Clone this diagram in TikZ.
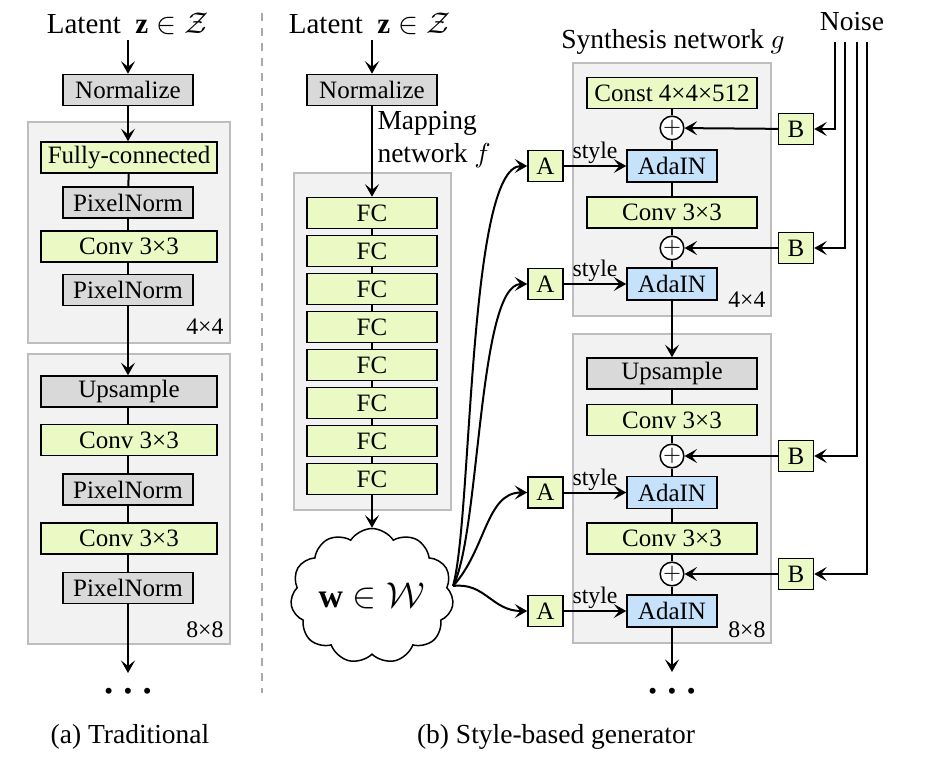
\documentclass[tikz,border=0pt]{standalone}
\usepackage{fontspec}
\setmainfont{Liberation Serif}
\usetikzlibrary{arrows.meta,shapes.symbols}
\definecolor{gfill}{RGB}{235,250,197}
\definecolor{grfill}{RGB}{217,217,217}
\definecolor{bfill}{RGB}{198,226,250}
\definecolor{grpfill}{RGB}{242,242,242}
\definecolor{grpdraw}{RGB}{190,190,190}
\definecolor{sepcol}{RGB}{170,170,170}
\newcommand{\mydots}{\textbullet\hspace{4.2pt}\textbullet\hspace{4.2pt}\textbullet}
\begin{document}
\begin{tikzpicture}[x=0.4pt,y=-0.4pt,
  box/.style={draw=black, line width=0.6pt, inner sep=0pt, minimum height=12.4pt, font=\fontsize{10}{12}\selectfont},
  gbox/.style={box, fill=gfill},
  grbox/.style={box, fill=grfill},
  wideb/.style={minimum width=70.4pt},
  midb/.style={minimum width=52pt},
  synb/.style={minimum width=68pt},
  adab/.style={box, fill=bfill, minimum width=36pt, minimum height=12.8pt},
  smallb/.style={box, fill=gfill, minimum width=14pt, minimum height=12.4pt},
  plusn/.style={circle, draw=black, line width=0.6pt, fill=white, minimum size=8.8pt, inner sep=0pt, font=\fontsize{9}{9}\selectfont},
  grp/.style={draw=grpdraw, fill=grpfill, line width=0.8pt},
  arr/.style={-{Stealth[length=5pt,width=5.6pt,inset=2.2pt]}, line width=0.8pt},
  ln/.style={line width=0.8pt},
  lbl/.style={font=\fontsize{11}{13.2}\selectfont, inner sep=0pt},
  latl/.style={font=\fontsize{11.6}{14}\selectfont, inner sep=0pt},
  sz/.style={font=\fontsize{9.5}{11}\selectfont, inner sep=0pt, anchor=base east},
  dotsn/.style={font=\fontsize{10}{10}\selectfont, inner sep=0pt},
  captxt/.style={font=\fontsize{11}{13}\selectfont, inner sep=0pt},
  stylel/.style={font=\fontsize{9.5}{11}\selectfont, inner sep=0.5pt, above}
]
\useasboundingbox (0,0) rectangle (940,772);

% separator
\draw[sepcol, line width=1pt, dash pattern=on 3.2pt off 2.8pt] (262,13) -- (262,693);

% ================= (a) Traditional =================
\node[latl] (lat1) at (128,24) {Latent\ \ $\mathbf{z}\in\mathcal{Z}$};
\node[grbox,midb] (an) at (128,90) {Normalize};
\draw[grp] (28,122) rectangle (230,343);
\node[gbox,wideb] (afc) at (129,157.5) {Fully-connected};
\node[grbox,midb] (apn1) at (128,202.5) {PixelNorm};
\node[gbox,wideb] (acv1) at (129,246.5) {Conv 3×3};
\node[grbox,midb] (apn2) at (128,290) {PixelNorm};
\node[sz] (asz1) at (224,335) {4×4};
\draw[grp] (28,354) rectangle (230,644);
\node[grbox,wideb] (aup) at (129,391.5) {Upsample};
\node[gbox,wideb] (acv2) at (129,440) {Conv 3×3};
\node[grbox,midb] (apn3) at (128,489.5) {PixelNorm};
\node[gbox,wideb] (acv3) at (129,538.5) {Conv 3×3};
\node[grbox,midb] (apn4) at (128,588) {PixelNorm};
\node[sz] (asz2) at (224,637) {8×8};
\coordinate (aend) at (128,673);
\node[dotsn] (adots) at (128,694) {\mydots};
\node[captxt] (acap) at (130,737) {(a) Traditional};

\draw[arr] ([yshift=-2pt]lat1.south -| an.north) -- (an);
\draw[arr] (an) -- (an |- afc.north);
\draw[ln] (afc) -- (apn1);
\draw[ln] (apn1) -- (apn1 |- acv1.north);
\draw[ln] (apn1 |- acv1.south) -- (apn2);
\draw[arr] (apn2) -- (apn2 |- aup.north);
\draw[ln] (apn2 |- aup.south) -- (apn2 |- acv2.north);
\draw[ln] (apn2 |- acv2.south) -- (apn3);
\draw[ln] (apn3) -- (apn3 |- acv3.north);
\draw[ln] (apn3 |- acv3.south) -- (apn4);
\draw[arr] (apn4) -- (aend);

% ================= (b) Mapping network =================
\node[latl] (lat2) at (370,24) {Latent\ \ $\mathbf{z}\in\mathcal{Z}$};
\node[grbox,midb] (bn) at (372,90) {Normalize};
\node[lbl, anchor=west, align=left] (maplbl) at (377,140) {Mapping\\network $f$};
\draw[grp] (294,173) rectangle (451,510);
\foreach \i in {1,...,8} {
  \node[gbox,midb] (fc\i) at (372,{213+38*(\i-1)}) {FC};
}
\foreach \i [evaluate=\i as \j using int(\i+1)] in {1,...,7} {
  \draw[ln] (fc\i) -- (fc\j);
}
\node[cloud, draw=black, line width=0.6pt, fill=white, cloud puffs=11, cloud puff arc=115, aspect=1.3,
      minimum width=61pt, minimum height=47pt, inner sep=0pt, font=\fontsize{13.5}{15}\selectfont] (w) at (372,596) {$\mathbf{w}\in\mathcal{W}$};
\draw[arr] ([yshift=-2pt]lat2.south -| bn.north) -- (bn);
\draw[arr] (bn) -- (fc1);
\draw[arr] (fc8) -- (w);

% ================= Synthesis network =================
\node[lbl] (synlbl) at (673,42) {Synthesis network $g$};
\draw[grp] (573,63) rectangle (771,316);
\node[gbox,synb] (const) at (672,93) {Const 4×4×512};
\node[plusn] (p1) at (672,128) {$+$};
\node[adab] (ad1) at (672,166) {AdaIN};
\node[gbox,synb] (scv1) at (672,212.5) {Conv 3×3};
\node[plusn] (p2) at (672,248) {$+$};
\node[adab] (ad2) at (672,284) {AdaIN};
\node[sz] (ssz1) at (766,308) {4×4};
\draw[grp] (573,334) rectangle (771,643);
\node[grbox,synb] (sup) at (672,373.5) {Upsample};
\node[gbox,synb] (scv2) at (672,420) {Conv 3×3};
\node[plusn] (p3) at (672,456) {$+$};
\node[adab] (ad3) at (672,492.5) {AdaIN};
\node[gbox,synb] (scv3) at (672,538.5) {Conv 3×3};
\node[plusn] (p4) at (672,574) {$+$};
\node[adab] (ad4) at (672,611) {AdaIN};
\node[sz] (ssz2) at (766,637) {8×8};
\coordinate (send) at (672,672);
\node[dotsn] (sdots) at (672,694) {\mydots};
\node[captxt] (bcap) at (556,737) {(b) Style-based generator};

\draw[ln] (const) -- (p1);
\draw[ln] (p1) -- (ad1);
\draw[ln] (ad1) -- (scv1);
\draw[ln] (scv1) -- (p2);
\draw[ln] (p2) -- (ad2);
\draw[arr] (ad2) -- (sup);
\draw[ln] (sup) -- (scv2);
\draw[ln] (scv2) -- (p3);
\draw[ln] (p3) -- (ad3);
\draw[ln] (ad3) -- (scv3);
\draw[ln] (scv3) -- (p4);
\draw[ln] (p4) -- (ad4);
\draw[arr] (ad4) -- (send);

% A boxes
\node[smallb] (A1) at (545.5,166) {A};
\node[smallb] (A2) at (545.5,284) {A};
\node[smallb] (A3) at (545.5,492.5) {A};
\node[smallb] (A4) at (545.5,611) {A};
\draw[arr] (A1) -- node[stylel] {style} (ad1);
\draw[arr] (A2) -- node[stylel] {style} (ad2);
\draw[arr] (A3) -- node[stylel] {style} (ad3);
\draw[arr] (A4) -- node[stylel] {style} (ad4);

% curves from w
\coordinate (wo) at (453,586);
\draw[arr] (wo) .. controls (472,520) and (468,166) .. (A1.west);
\draw[arr] (wo) .. controls (480,535) and (478,284) .. (A2.west);
\draw[arr] (wo) .. controls (486,550) and (486,492.5) .. (A3.west);
\draw[arr] (wo) .. controls (485,582) and (492,611) .. (A4.west);

% B boxes and noise
\node[smallb] (B1) at (796,129) {B};
\node[smallb] (B2) at (796,248) {B};
\node[smallb] (B3) at (796,456) {B};
\node[smallb] (B4) at (796,574) {B};
\draw[arr] (B1) -- (p1);
\draw[arr] (B2) -- (p2);
\draw[arr] (B3) -- (p3);
\draw[arr] (B4) -- (p4);

\node[lbl] (noise) at (852,22) {Noise};
\coordinate (nz1) at (835,42);
\coordinate (nz2) at (845,42);
\coordinate (nz3) at (857,42);
\coordinate (nz4) at (867,42);
\draw[arr] (nz1) |- (B1.east);
\draw[arr] (nz2) |- (B2.east);
\draw[arr] (nz3) |- (B3.east);
\draw[arr] (nz4) |- (B4.east);
\end{tikzpicture}
\end{document}
